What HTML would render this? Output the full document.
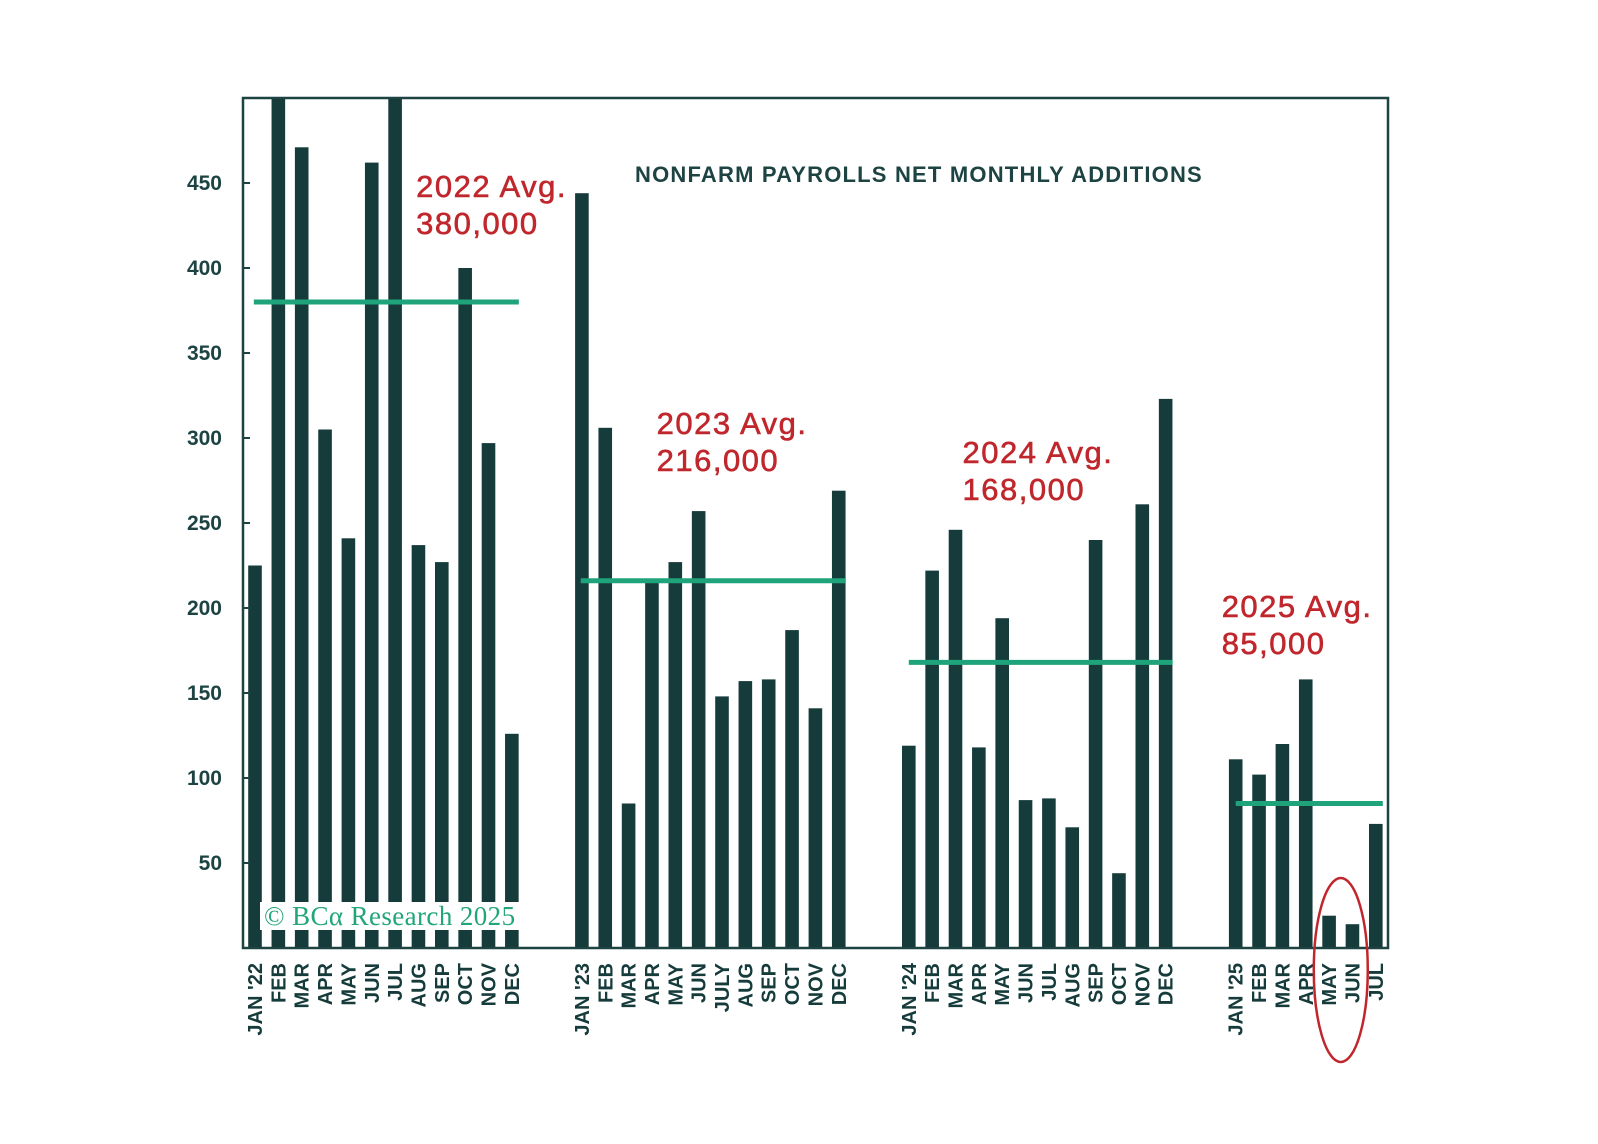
<!DOCTYPE html>
<html><head><meta charset="utf-8"><style>
html,body{margin:0;padding:0;background:#fff;}
svg{display:block;}
</style></head><body>
<svg id="chart" width="1598" height="1144" xmlns="http://www.w3.org/2000/svg" font-family="Liberation Sans, sans-serif"></svg>
<script>
const months = ["JAN '22","FEB","MAR","APR","MAY","JUN","JUL","AUG","SEP","OCT","NOV","DEC",
"JAN '23","FEB","MAR","APR","MAY","JUN","JULY","AUG","SEP","OCT","NOV","DEC",
"JAN '24","FEB","MAR","APR","MAY","JUN","JUL","AUG","SEP","OCT","NOV","DEC",
"JAN '25","FEB","MAR","APR","MAY","JUN","JUL"];
const slots = [0,1,2,3,4,5,6,7,8,9,10,11,14,15,16,17,18,19,20,21,22,23,24,25,28,29,30,31,32,33,34,35,36,37,38,39,42,43,44,45,46,47,48];
const values = [225,714,471,305,241,462,568,237,227,400,297,126,
444,306,85,216,227,257,148,157,158,187,141,269,
119,222,246,118,194,87,88,71,240,44,261,323,
111,102,120,158,19,14,73];
const yTicks = [50,100,150,200,250,300,350,400,450];
const avgYears = ["2022","2023","2024","2025"];
const avgValues = [380,216,168,85];
const avgLabels = ["380,000","216,000","168,000","85,000"];
const avgSlotRanges = [[-0.05,11.3],[13.95,25.3],[28,39.3],[42,48.3]];
const labelSlots = [6.9,17.2,30.3,41.4];
const labelBaselines = [197,434,463,617];

const svg = document.getElementById('chart');
const NS = "http://www.w3.org/2000/svg";
const X0=243, X1=1388, Y0=98, Y1=948;
const yMax=500;
function y(v){return Y1-(Math.min(v,yMax))/yMax*(Y1-Y0);}
function x(s){return 255+s*23.35;}
function mk(tag,attrs,parent){const e=document.createElementNS(NS,tag);for(const k in attrs)e.setAttribute(k,attrs[k]);(parent||svg).appendChild(e);return e;}

slots.forEach((s,i)=>{
  const b=mk('rect',{x:x(s)-6.8,y:y(values[i]),width:13.6,height:Y1-y(values[i]),fill:'#163b3b'});
  
  
});
const fr=mk('rect',{x:X0,y:Y0,width:X1-X0,height:Y1-Y0,fill:'none',stroke:'#1d4343','stroke-width':2.5});


yTicks.forEach(t=>{
  const ln=mk('line',{x1:X0,x2:X0+7,y1:y(t),y2:y(t),stroke:'#1d4343','stroke-width':2});
  
  
  const tx=mk('text',{x:222,y:y(t)+7,'text-anchor':'end','font-size':21,'font-weight':'bold',fill:'#1d4343'});
  tx.textContent=t;
  
  
});
slots.forEach((s,i)=>{
  const tx=mk('text',{x:0,y:0,transform:`translate(${x(s)+7},963) rotate(-90)`,'text-anchor':'end','font-size':20,'font-weight':'bold',fill:'#163b3b'});
  tx.textContent=months[i];
  
  
});
avgValues.forEach((v,i)=>{
  const r=avgSlotRanges[i];
  const ln=mk('line',{x1:x(r[0]),x2:x(r[1]),y1:y(v),y2:y(v),stroke:'#1fa37a','stroke-width':5});
  
  
  const lx=x(labelSlots[i]);
  const t1=mk('text',{x:lx,y:labelBaselines[i],'font-size':31,'letter-spacing':1.5,fill:'#c0272d',stroke:'#c0272d','stroke-width':0.6});
  t1.textContent=avgYears[i]+' Avg.';
  
  
  const t2=mk('text',{x:lx,y:labelBaselines[i]+37,'font-size':31,'letter-spacing':1.5,fill:'#c0272d',stroke:'#c0272d','stroke-width':0.6});
  t2.textContent=avgLabels[i];
  
  
});
const ti=mk('text',{x:635,y:182,'font-size':22,'font-weight':'bold','letter-spacing':1.2,fill:'#1d4343'});
ti.textContent='NONFARM PAYROLLS NET MONTHLY ADDITIONS';


const wb=mk('rect',{x:260,y:902,width:272,height:28,fill:'#fff'});


const wm=mk('text',{x:264,y:925,'font-size':27,'letter-spacing':0.4,fill:'#22a57a','font-family':'Liberation Serif, serif'});
wm.textContent='© BCα Research 2025';


const el=mk('ellipse',{cx:(x(46)+x(47))/2,cy:970,rx:27,ry:92,fill:'none',stroke:'#c0272d','stroke-width':2.5});


</script>
</body></html>
